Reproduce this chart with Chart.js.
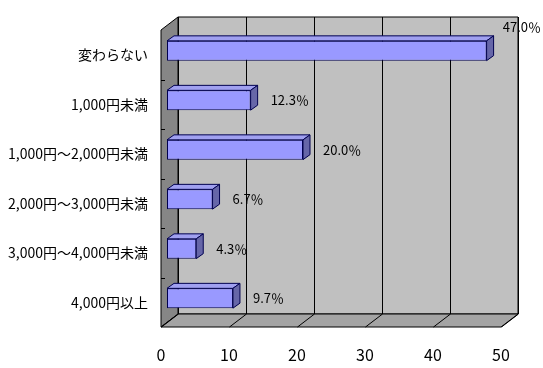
<!DOCTYPE html>
<html>
<head>
<meta charset="utf-8">
<script src="https://cdn.jsdelivr.net/npm/chart.js@4"></script>
<style>
  html, body { margin: 0; padding: 0; background: #fff; }
  #chart { display: block; }
</style>
</head>
<body>
<canvas id="chart" width="543" height="368"></canvas>
<script>
// --- DATA ---
const categories = ['変わらない', '1,000円未満', '1,000円～2,000円未満', '2,000円～3,000円未満', '3,000円～4,000円未満', '4,000円以上'];
const values = [47.0, 12.3, 20.0, 6.7, 4.3, 9.7];
const xTicks = [0, 10, 20, 30, 40, 50];

// --- 3D LOOK ---
const WALL_DEPTH = { x: 17, y: -13 };   // back wall offset from front plane
const BAR_SHIFT = { x: 6, y: -4 };      // bars sit a bit into the depth
const BAR_DEPTH = { x: 7, y: -5 };
const FONT = '"Noto Sans CJK JP", "Noto Sans", sans-serif';

function poly(ctx, pts, fill, stroke) {
    ctx.beginPath();
    ctx.moveTo(pts[0][0], pts[0][1]);
    for (let i = 1; i < pts.length; i++) ctx.lineTo(pts[i][0], pts[i][1]);
    ctx.closePath();
    if (fill) { ctx.fillStyle = fill; ctx.fill(); }
    if (stroke) { ctx.strokeStyle = stroke; ctx.lineWidth = 1; ctx.stroke(); }
}

const walls3d = {
    id: 'walls3d',
    beforeDatasetsDraw(chart) {
        const ctx = chart.ctx;
        const a = chart.chartArea;
        const xs = chart.scales.x;
        const ys = chart.scales.y;
        const dx = WALL_DEPTH.x, dy = WALL_DEPTH.y;

        // back wall
        poly(ctx, [[a.left + dx, a.top + dy], [a.right + dx, a.top + dy], [a.right + dx, a.bottom + dy], [a.left + dx, a.bottom + dy]], '#c0c0c0', '#000');
        // left wall
        poly(ctx, [[a.left, a.top], [a.left + dx, a.top + dy], [a.left + dx, a.bottom + dy], [a.left, a.bottom]], '#868686', '#000');
        // floor
        poly(ctx, [[a.left, a.bottom], [a.left + dx, a.bottom + dy], [a.right + dx, a.bottom + dy], [a.right, a.bottom]], '#a4a4a4', '#000');

        // grid on back wall + floor
        ctx.strokeStyle = '#000';
        ctx.lineWidth = 1;
        xTicks.forEach(v => {
            const px = Math.round(xs.getPixelForValue(v)) + 0.5;
            ctx.beginPath();
            ctx.moveTo(px + dx, a.top + dy);
            ctx.lineTo(px + dx, a.bottom + dy);
            ctx.lineTo(px, a.bottom);
            ctx.stroke();
        });

        // small ticks on left wall at category borders
        const step = (a.bottom - a.top) / categories.length;
        for (let i = 1; i < categories.length; i++) {
            const py = Math.round(a.top + step * i) + 0.5;
            ctx.beginPath();
            ctx.moveTo(a.left, py);
            ctx.lineTo(a.left + 4, py);
            ctx.stroke();
        }

        ctx.save();
        ctx.translate(BAR_SHIFT.x, BAR_SHIFT.y);
    },
    afterDatasetsDraw(chart) {
        const ctx = chart.ctx;
        const bars = chart.getDatasetMeta(0).data;
        const bx = BAR_DEPTH.x, by = BAR_DEPTH.y;
        bars.forEach(bar => {
            const l = bar.base, r = bar.x;
            const t = bar.y - bar.height / 2, b = bar.y + bar.height / 2;
            // top face
            poly(ctx, [[l, t], [l + bx, t + by], [r + bx, t + by], [r, t]], '#a0a0f0', '#000050');
            // side face
            poly(ctx, [[r, t], [r + bx, t + by], [r + bx, b + by], [r, b]], '#6666a8', '#000050');
        });
        ctx.restore();
    },
    afterDraw(chart) {
        const ctx = chart.ctx;
        const bars = chart.getDatasetMeta(0).data;
        ctx.save();
        ctx.font = '13px ' + FONT;
        ctx.fillStyle = '#000';
        ctx.textBaseline = 'middle';
        bars.forEach((bar, i) => {
            const txt = values[i].toFixed(1) + '％';
            const w = ctx.measureText(txt).width;
            let x = bar.x + BAR_SHIFT.x + 20;
            let y = bar.y + BAR_SHIFT.y;
            if (x + w > chart.width - 2) {
                x = chart.width - 2 - w;
                y = bar.y + BAR_SHIFT.y - bar.height / 2 - 14;
            }
            ctx.textAlign = 'left';
            ctx.fillText(txt, x, y);
        });
        ctx.restore();
    }
};

new Chart(document.getElementById('chart'), {
    type: 'bar',
    data: {
        labels: categories,
        datasets: [{
            data: values,
            backgroundColor: '#9999ff',
            borderColor: '#000050',
            borderWidth: 1,
            borderSkipped: false,
            barPercentage: 0.4,
            categoryPercentage: 1.0
        }]
    },
    options: {
        indexAxis: 'y',
        responsive: false,
        animation: false,
        devicePixelRatio: 1,
        layout: { padding: { left: 0, top: 30, right: 42, bottom: 0 } },
        plugins: { legend: { display: false }, tooltip: { enabled: false } },
        scales: {
            x: {
                min: 0, max: 50,
                grid: { display: false, drawTicks: false },
                border: { display: false },
                ticks: { stepSize: 10, padding: 18, color: '#000', font: { size: 16, family: FONT } },
                afterFit(scale) { scale.height = 41; }
            },
            y: {
                grid: { display: false, drawTicks: false },
                border: { display: false },
                ticks: { padding: 13, color: '#000', font: { size: 14, family: FONT } },
                afterFit(scale) { scale.width = 161; }
            }
        }
    },
    plugins: [walls3d]
});
</script>
</body>
</html>
